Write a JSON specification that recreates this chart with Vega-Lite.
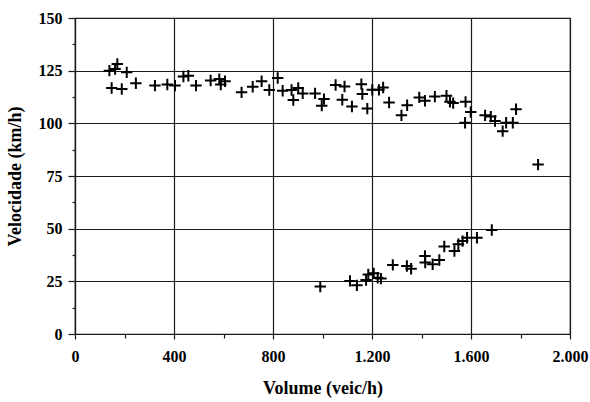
{
  "$schema": "https://vega.github.io/schema/vega-lite/v6.json",
  "autosize": {"type": "none"},
  "padding": {"left": 75, "top": 18, "right": 20, "bottom": 68},
  "width": 495,
  "height": 316,
  "background": "white",
  "config": {
    "view": {"stroke": "#1a1a1a", "strokeWidth": 1.2},
    "font": "Liberation Serif"
  },
  "data": {
    "values": [
      {"volume": 139, "velocidade": 125},
      {"volume": 171, "velocidade": 128.2},
      {"volume": 162, "velocidade": 125.8},
      {"volume": 209, "velocidade": 124.2},
      {"volume": 148, "velocidade": 116.8},
      {"volume": 189, "velocidade": 116.3},
      {"volume": 246, "velocidade": 119},
      {"volume": 323, "velocidade": 117.9},
      {"volume": 373, "velocidade": 118.4},
      {"volume": 404, "velocidade": 117.9},
      {"volume": 438, "velocidade": 122.2},
      {"volume": 458, "velocidade": 122.6},
      {"volume": 489, "velocidade": 117.9},
      {"volume": 548, "velocidade": 120.3},
      {"volume": 583, "velocidade": 121},
      {"volume": 589, "velocidade": 118.4},
      {"volume": 606, "velocidade": 120},
      {"volume": 673, "velocidade": 114.7},
      {"volume": 718, "velocidade": 117.4},
      {"volume": 754, "velocidade": 120},
      {"volume": 785, "velocidade": 115.8},
      {"volume": 819, "velocidade": 121.5},
      {"volume": 839, "velocidade": 115.5},
      {"volume": 875, "velocidade": 115.8},
      {"volume": 882, "velocidade": 111.1},
      {"volume": 902, "velocidade": 116.8},
      {"volume": 920, "velocidade": 114.2},
      {"volume": 970, "velocidade": 114.2},
      {"volume": 997, "velocidade": 108.4},
      {"volume": 1006, "velocidade": 111.5},
      {"volume": 1053, "velocidade": 118.2},
      {"volume": 1089, "velocidade": 117.5},
      {"volume": 1080, "velocidade": 111.2},
      {"volume": 1119, "velocidade": 108},
      {"volume": 1157, "velocidade": 118.6},
      {"volume": 1161, "velocidade": 113.9},
      {"volume": 1181, "velocidade": 107},
      {"volume": 1201, "velocidade": 115.9},
      {"volume": 1228, "velocidade": 115.9},
      {"volume": 1245, "velocidade": 117},
      {"volume": 1269, "velocidade": 109.9},
      {"volume": 1319, "velocidade": 103.8},
      {"volume": 1342, "velocidade": 108.6},
      {"volume": 1391, "velocidade": 112.3},
      {"volume": 1414, "velocidade": 110.7},
      {"volume": 1454, "velocidade": 112.7},
      {"volume": 1501, "velocidade": 113.1},
      {"volume": 1515, "velocidade": 110.2},
      {"volume": 1528, "velocidade": 109.6},
      {"volume": 1578, "velocidade": 110.2},
      {"volume": 1599, "velocidade": 105.4},
      {"volume": 1576, "velocidade": 100.3},
      {"volume": 1657, "velocidade": 103.8},
      {"volume": 1680, "velocidade": 103.2},
      {"volume": 1697, "velocidade": 101.1},
      {"volume": 1728, "velocidade": 96.3},
      {"volume": 1742, "velocidade": 100.3},
      {"volume": 1769, "velocidade": 100.3},
      {"volume": 1782, "velocidade": 106.7},
      {"volume": 1871, "velocidade": 80.4},
      {"volume": 991, "velocidade": 22.5},
      {"volume": 1111, "velocidade": 25.2},
      {"volume": 1139, "velocidade": 23.1},
      {"volume": 1176, "velocidade": 25.6},
      {"volume": 1185, "velocidade": 28.3},
      {"volume": 1207, "velocidade": 28.8},
      {"volume": 1223, "velocidade": 26.7},
      {"volume": 1236, "velocidade": 26.3},
      {"volume": 1284, "velocidade": 32.8},
      {"volume": 1341, "velocidade": 32.3},
      {"volume": 1358, "velocidade": 31},
      {"volume": 1414, "velocidade": 37},
      {"volume": 1415, "velocidade": 33.9},
      {"volume": 1445, "velocidade": 33.1},
      {"volume": 1472, "velocidade": 35.1},
      {"volume": 1492, "velocidade": 41.5},
      {"volume": 1533, "velocidade": 39.4},
      {"volume": 1549, "velocidade": 42.6},
      {"volume": 1566, "velocidade": 44.1},
      {"volume": 1584, "velocidade": 45.7},
      {"volume": 1624, "velocidade": 45.7},
      {"volume": 1684, "velocidade": 49.4}
    ]
  },
  "mark": {
    "type": "point",
    "shape": "M-1,0H1M0,-1V1",
    "size": 130,
    "stroke": "black",
    "strokeWidth": 2,
    "filled": false,
    "opacity": 1
  },
  "encoding": {
    "x": {
      "field": "volume",
      "type": "quantitative",
      "scale": {"domain": [0, 2000], "nice": false, "zero": true},
      "axis": {
        "title": "Volume (veic/h)",
        "values": [0, 200, 400, 600, 800, 1000, 1200, 1400, 1600, 1800, 2000],
        "labelExpr": "datum.value % 400 === 0 ? replace(format(datum.value, ','), ',', '.') : ''",
        "labelFlush": false,
        "labelOverlap": false,
        "labelFont": "Liberation Serif",
        "labelFontSize": 16,
        "labelFontWeight": "bold",
        "labelColor": "black",
        "labelPadding": 9,
        "titleFont": "Liberation Serif",
        "titleFontSize": 18,
        "titleFontWeight": "bold",
        "titleColor": "black",
        "titlePadding": 15,
        "domainColor": "#1a1a1a",
        "domainWidth": 1.2,
        "tickColor": "#1a1a1a",
        "tickWidth": 1.2,
        "tickSize": {"condition": {"test": "datum.value % 400 === 0", "value": 5}, "value": 4},
        "grid": true,
        "gridColor": "#1a1a1a",
        "gridWidth": 1.2,
        "gridOpacity": {"condition": {"test": "datum.value % 400 === 0", "value": 1}, "value": 0}
      }
    },
    "y": {
      "field": "velocidade",
      "type": "quantitative",
      "scale": {"domain": [0, 150], "nice": false},
      "axis": {
        "title": "Velocidade (km/h)",
        "values": [0, 12.5, 25, 37.5, 50, 62.5, 75, 87.5, 100, 112.5, 125, 137.5, 150],
        "labelExpr": "datum.value % 25 === 0 ? format(datum.value, 'd') : ''",
        "labelOverlap": false,
        "labelFlush": false,
        "labelFont": "Liberation Serif",
        "labelFontSize": 16,
        "labelFontWeight": "bold",
        "labelColor": "black",
        "labelPadding": 6,
        "titleFont": "Liberation Serif",
        "titleFontSize": 18,
        "titleFontWeight": "bold",
        "titleColor": "black",
        "titlePadding": 14,
        "domainColor": "#1a1a1a",
        "domainWidth": 1.2,
        "tickColor": "#1a1a1a",
        "tickWidth": 1.2,
        "tickSize": {"condition": {"test": "datum.value % 25 === 0", "value": 7}, "value": 3},
        "grid": true,
        "gridColor": "#1a1a1a",
        "gridWidth": 1.2,
        "gridOpacity": {"condition": {"test": "datum.value % 25 === 0", "value": 1}, "value": 0}
      }
    }
  }
}
